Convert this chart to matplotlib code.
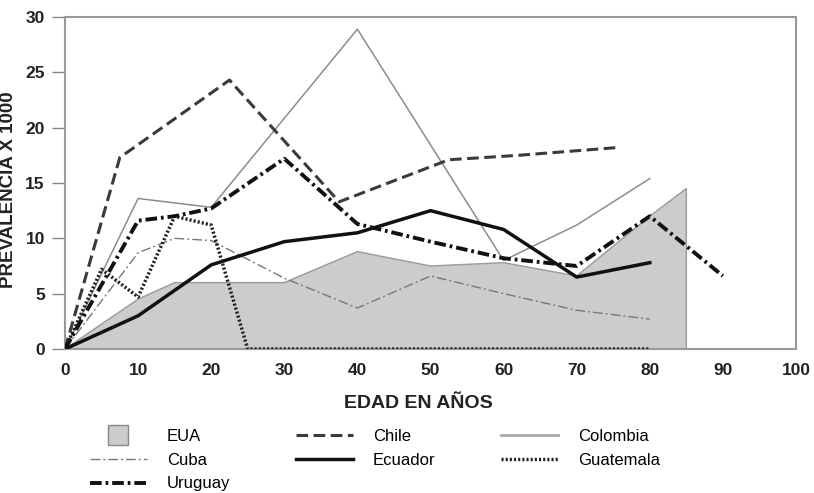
import matplotlib.pyplot as plt
from matplotlib.lines import Line2D

plt.rcParams['font.family'] = ['Liberation Sans', 'DejaVu Sans']

# prevalence x 1000 by age
eua_x = [0, 10, 15, 30, 40, 50, 60, 70, 80, 85, 85]
eua_y = [0, 4.5, 6.0, 6.0, 8.8, 7.5, 7.8, 6.6, 12.0, 14.5, 0]

chile_x = [0, 7.5, 22.5, 37.5, 52.5, 62, 75.5]
chile_y = [0, 17.3, 24.3, 13.3, 17.1, 17.5, 18.2]

colombia_x = [0, 10, 20, 40, 60, 70, 80]
colombia_y = [0, 13.6, 12.8, 28.9, 8.0, 11.2, 15.4]

cuba_x = [0, 10, 15, 20, 30, 40, 50, 60, 70, 80]
cuba_y = [0, 8.7, 10.0, 9.8, 6.4, 3.7, 6.6, 5.0, 3.5, 2.7]

ecuador_x = [0, 10, 20, 30, 40, 50, 60, 70, 80]
ecuador_y = [0, 3.0, 7.6, 9.7, 10.5, 12.5, 10.8, 6.5, 7.8]

guatemala_x = [0, 5, 10, 15, 20, 25, 80]
guatemala_y = [0, 7.2, 4.7, 12.0, 11.2, 0, 0]

uruguay_x = [0, 10, 15, 20, 30, 40, 50, 60, 70, 80, 90]
uruguay_y = [0, 11.6, 12.0, 12.7, 17.2, 11.3, 9.7, 8.2, 7.5, 12.0, 6.6]

x_ticks = [0, 10, 20, 30, 40, 50, 60, 70, 80, 90, 100]
y_ticks = [0, 5, 10, 15, 20, 25, 30]

W, H = 814, 493
fig = plt.figure(figsize=(W / 100, H / 100), dpi=100)
ax = fig.add_axes([65 / W, 1 - 349 / H, 731 / W, 332 / H])

ax.fill(eua_x, eua_y, facecolor='#cccccc', edgecolor='#999999', lw=1, zorder=1)
ax.plot(colombia_x, colombia_y, color='#8c8c8c', lw=1.1, zorder=2)
ax.plot(cuba_x, cuba_y, color='#777777', lw=1.0, dashes=(7, 2.2, 1.4, 2.2), zorder=2)
ax.plot(chile_x, chile_y, color='#3a3a3a', lw=2.2, dashes=(3.8, 1.8), zorder=3)
ax.plot(ecuador_x, ecuador_y, color='#111111', lw=2.5, zorder=3)
ax.plot(guatemala_x, guatemala_y, color='#222222', lw=2.5, dashes=(0.6, 0.6), zorder=3)
ax.plot(uruguay_x, uruguay_y, color='#111111', lw=2.8, dashes=(3, 1, 0.7, 1), zorder=4)

ax.set_xlim(0, 100)
ax.set_ylim(0, 30)
ax.set_xticks(x_ticks)
ax.set_yticks(y_ticks)
ax.tick_params(axis='x', length=0, pad=10, labelsize=12.5)
ax.tick_params(axis='y', length=9.5, width=1, color='#888888', pad=5, labelsize=12.5)
for lab in ax.get_xticklabels() + ax.get_yticklabels():
    lab.set_fontweight('bold')
    lab.set_color('#222222')
for sp in ax.spines.values():
    sp.set_color('#999999')
    sp.set_linewidth(1.5)

ax.set_xlabel('EDAD EN AÑOS', fontsize=14, fontweight='bold', color='#222222')
ax.xaxis.set_label_coords(0.484, -0.139)

fig.text(9 / W, 1 - 190 / H, 'PREVALENCIA X 1000', rotation=90, ha='center',
         va='center', fontsize=13.5, fontweight='bold', color='#222222')

handles = [
    Line2D([], [], marker='s', markersize=14, markerfacecolor='#cccccc',
           markeredgecolor='#888888', linestyle='None'),
    Line2D([], [], color='#777777', lw=1.0, dashes=(7, 2.2, 1.4, 2.2)),
    Line2D([], [], color='#111111', lw=2.8, dashes=(3, 1, 0.7, 1)),
    Line2D([], [], color='#3a3a3a', lw=2.2, dashes=(3.8, 1.8)),
    Line2D([], [], color='#111111', lw=2.5),
    Line2D([], [], color='#aaaaaa', lw=2),
    Line2D([], [], color='#222222', lw=2.5, dashes=(0.6, 0.6)),
]
labels = ['EUA', 'Cuba', 'Uruguay', 'Chile', 'Ecuador', 'Colombia', 'Guatemala']
fig.legend(handles, labels, ncol=3, loc='upper left',
           bbox_to_anchor=(90 / W, 1 - 429 / H), frameon=False,
           borderpad=0, borderaxespad=0, handlelength=3.4, handletextpad=1.2,
           columnspacing=3.95, labelspacing=0.52, fontsize=12)

fig.savefig('out.png', dpi=100)
